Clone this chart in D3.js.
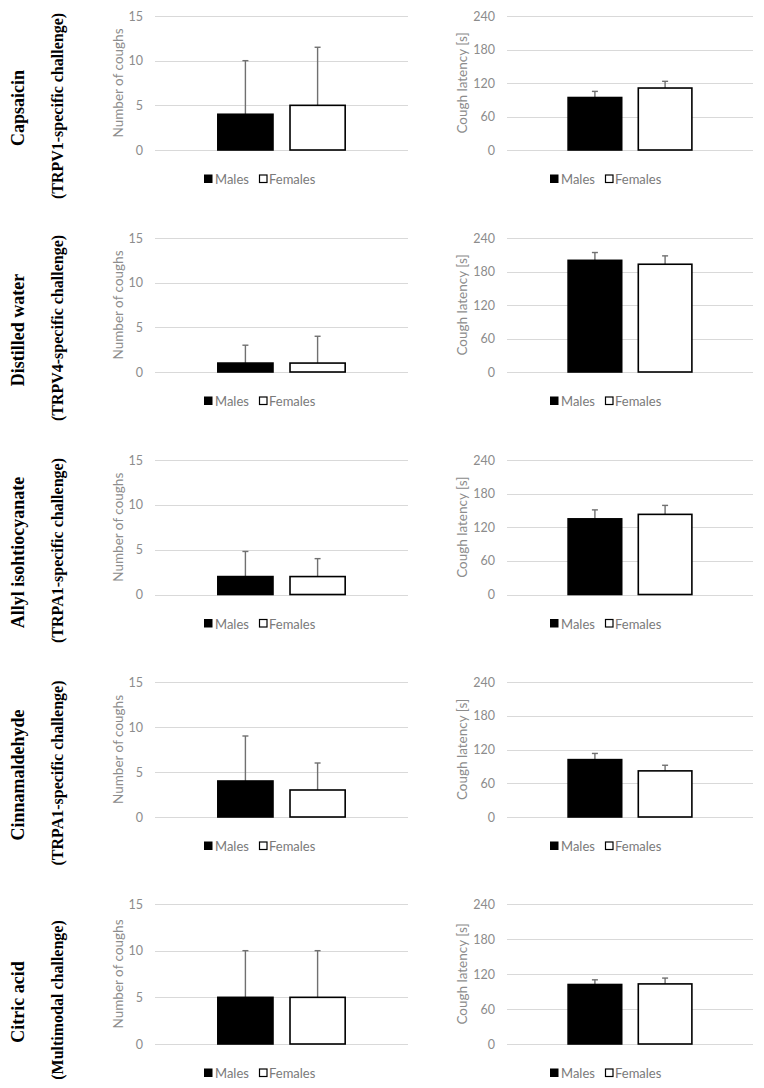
<!DOCTYPE html>
<html><head><meta charset="utf-8">
<script src="https://cdn.jsdelivr.net/npm/d3@7"></script>
<style>body{margin:0;background:#fff}svg{display:block}</style>
</head><body>
<script>
// ---- data ----
const challenges = ["Capsaicin","Distilled water","Allyl isohtiocyanate","Cinnamaldehyde","Citric acid"];
const subtitles = ["(TRPV1-specific challenge)","(TRPV4-specific challenge)","(TRPA1-specific challenge)","(TRPA1-specific challenge)","(Multimodal challenge)"];
const series = ["Males","Females"];
const coughsMales = [4,1,2,4,5];
const coughsMalesSD = [6,2,2.8,5,5];
const coughsFemales = [5,1,2,3,5];
const coughsFemalesSD = [6.5,3,2,3,5];
const latencyMales = [94,200,135,102,102];
const latencyMalesSD = [11,14,16,11,8];
const latencyFemales = [111,193,143,82,103];
const latencyFemalesSD = [12,15,16,10,10];
const coughTicks = [0,5,10,15];
const latencyTicks = [0,60,120,180,240];
const coughTitle = "Number of coughs";
const latencyTitle = "Cough latency [s]";

// ---- layout ----
const W = 764, H = 1088;
const rowTop = [16,238,460,682,904];
const rowZero = [150,372,594.5,817,1044];
const panels = [
  {x0:155, x1:408, ticks:coughTicks, max:15, title:coughTitle, titleX:118,
   m:coughsMales, msd:coughsMalesSD, f:coughsFemales, fsd:coughsFemalesSD, legX:204},
  {x0:507, x1:753, ticks:latencyTicks, max:240, title:latencyTitle, titleX:462,
   m:latencyMales, msd:latencyMalesSD, f:latencyFemales, fsd:latencyFemalesSD, legX:550}
];
const gridColor = "#d9d9d9", textGray = "#8c8c8c", legGray = "#7a7a7a", errColor = "#707070";
const sansFont = "Lato, 'Open Sans', sans-serif";
const serifFont = "'Liberation Serif', 'DejaVu Serif', serif";

const svg = d3.select("body").append("svg").attr("width", W).attr("height", H);

challenges.forEach((name, r) => {
  const g = svg.append("g");
  const cy = rowZero[r] - 42;
  g.append("text").attr("transform", `translate(18,${cy}) rotate(-90)`)
    .attr("text-anchor","middle").attr("dominant-baseline","central")
    .attr("font-family", serifFont).attr("font-weight","bold").attr("font-size",18)
    .attr("fill","#000").text(name);
  g.append("text").attr("transform", `translate(57,${cy - 2}) rotate(-90)`)
    .attr("text-anchor","middle").attr("dominant-baseline","central")
    .attr("font-family", serifFont).attr("font-weight","bold").attr("font-size",16)
    .attr("fill","#000").text(subtitles[r]);

  panels.forEach(p => {
    const y = d3.scaleLinear().domain([0, p.max]).range([rowZero[r], rowTop[r]]);
    const x = d3.scaleBand().domain(series).range([p.x0, p.x1]).paddingInner(0.215).paddingOuter(0.86);
    const pg = g.append("g");
    // grid
    pg.selectAll("line.grid").data(p.ticks).join("line")
      .attr("x1", p.x0).attr("x2", p.x1)
      .attr("y1", d => Math.round(y(d)) + 0.5).attr("y2", d => Math.round(y(d)) + 0.5)
      .attr("stroke", gridColor).attr("stroke-width", 1.2);
    // axis labels via d3 axis
    const ax = pg.append("g").attr("transform", `translate(${p.x0},0)`)
      .call(d3.axisLeft(y).tickValues(p.ticks).tickSize(0).tickPadding(12));
    ax.select(".domain").remove();
    ax.selectAll("text").attr("font-family", sansFont).attr("font-size", 12.5).attr("fill", textGray);
    // axis title
    pg.append("text").attr("transform", `translate(${p.titleX},${(rowTop[r]+rowZero[r])/2}) rotate(-90)`)
      .attr("text-anchor","middle").attr("dominant-baseline","central")
      .attr("font-family", sansFont).attr("font-size", 13.5).attr("fill", textGray).text(p.title);
    // bars
    const vals = [{s:"Males", v:p.m[r], sd:p.msd[r]}, {s:"Females", v:p.f[r], sd:p.fsd[r]}];
    vals.forEach(d => {
      const cx = x(d.s) + x.bandwidth()/2;
      pg.append("line").attr("x1", cx).attr("x2", cx).attr("y1", y(d.v)).attr("y2", y(d.v + d.sd))
        .attr("stroke", errColor).attr("stroke-width", 1.4);
      pg.append("line").attr("x1", cx - 3).attr("x2", cx + 3).attr("y1", y(d.v + d.sd)).attr("y2", y(d.v + d.sd))
        .attr("stroke", errColor).attr("stroke-width", 1.4);
    });
    pg.selectAll("rect.bar").data(vals).join("rect")
      .attr("x", d => x(d.s) + 0.75).attr("width", x.bandwidth() - 1.5)
      .attr("y", d => y(d.v)).attr("height", d => y(0) - y(d.v))
      .attr("fill", d => d.s === "Males" ? "#000" : "#fff")
      .attr("stroke", "#000").attr("stroke-width", 1.6);
    // legend
    const ly = rowZero[r] + 29;
    const lg = pg.append("g").attr("transform", `translate(${p.legX},${ly})`);
    lg.append("rect").attr("x", 0.5).attr("y", -4).attr("width", 7.5).attr("height", 7.5)
      .attr("fill", "#000").attr("stroke","#000").attr("stroke-width",1);
    lg.append("text").attr("x", 11).attr("y", 0).attr("dominant-baseline","central")
      .attr("font-family", sansFont).attr("font-size", 13).attr("fill", legGray).text(series[0]);
    lg.append("rect").attr("x", 55.5).attr("y", -4).attr("width", 7.5).attr("height", 7.5)
      .attr("fill", "#fff").attr("stroke","#000").attr("stroke-width",1.2);
    lg.append("text").attr("x", 65).attr("y", 0).attr("dominant-baseline","central")
      .attr("font-family", sansFont).attr("font-size", 13).attr("fill", legGray).text(series[1]);
  });
});
</script>
</body></html>
